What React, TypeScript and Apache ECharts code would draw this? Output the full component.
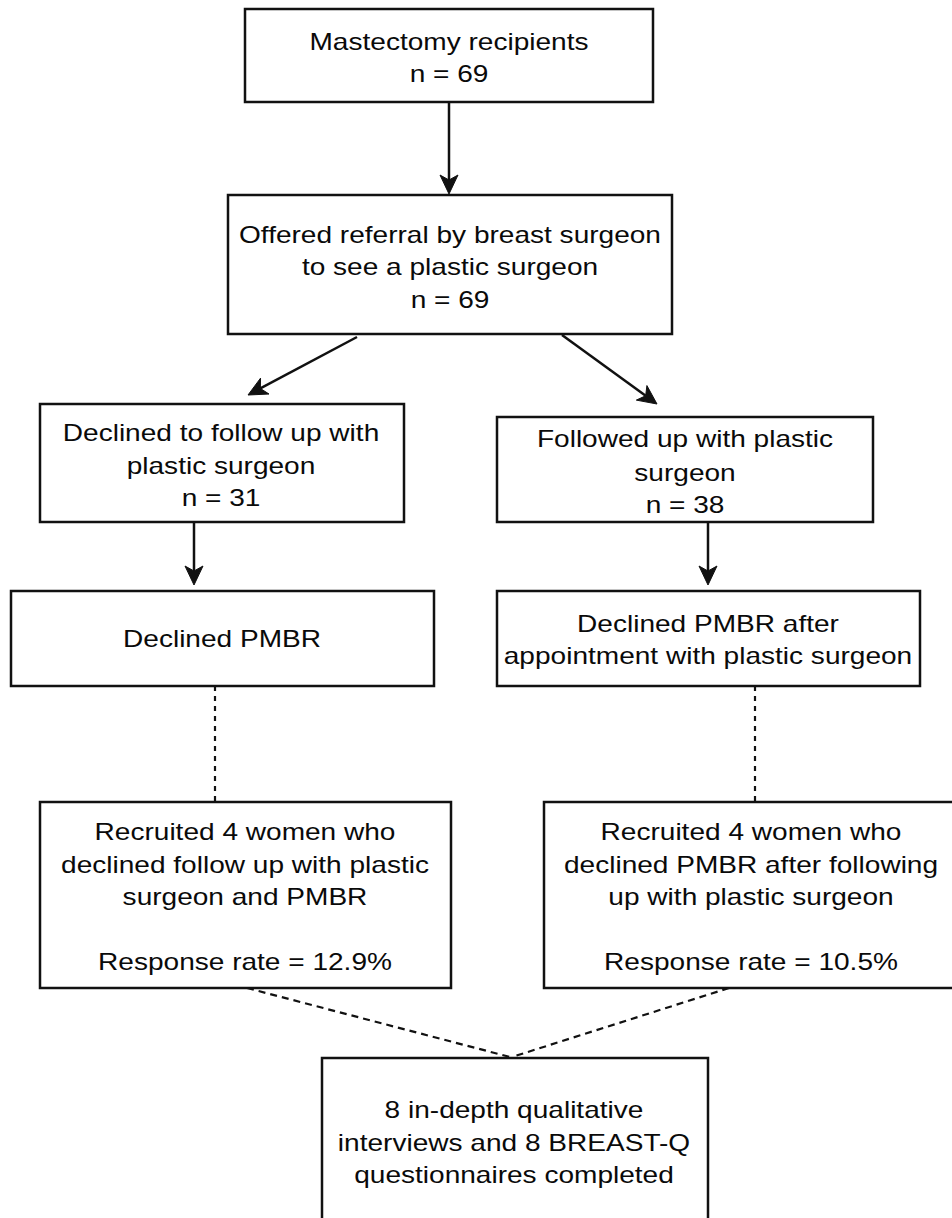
import React, { useEffect, useRef } from "react";
import * as echarts from "echarts";

// ---- Data (text content and numbers) ----
const stageTitles: string[][] = [
  ["Mastectomy recipients"],
  ["Offered referral by breast surgeon", "to see a plastic surgeon"],
  ["Declined to follow up with", "plastic surgeon"],
  ["Followed up with plastic", "surgeon"],
  ["Declined PMBR"],
  ["Declined PMBR after", "appointment with plastic surgeon"],
  ["Recruited 4 women who", "declined follow up with plastic", "surgeon and PMBR"],
  ["Recruited 4 women who", "declined PMBR after following", "up with plastic surgeon"],
  ["8 in-depth qualitative", "interviews and 8 BREAST-Q", "questionnaires completed"],
];
const stageCounts: (number | null)[] = [69, 69, 31, 38, null, null, null, null, null];
const responseRates: (number | null)[] = [null, null, null, null, null, null, 12.9, 10.5, null];

// links: [from, to, dashed]
const links: [number, number, boolean][] = [
  [0, 1, false],
  [1, 2, false],
  [1, 3, false],
  [2, 4, false],
  [3, 5, false],
  [4, 6, true],
  [5, 7, true],
  [6, 8, true],
  [7, 8, true],
];

// ---- Layout (positions / sizes) ----
const boxRects: [number, number, number, number][] = [
  [245, 9, 653, 102],
  [228, 195, 672, 334],
  [40, 404, 404, 522],
  [497, 417, 873, 522],
  [11, 591, 434, 686],
  [497, 591, 920, 686],
  [40, 802, 451, 988],
  [544, 802, 962, 988],
  [322, 1058, 708, 1260],
];
const textCenters: number[] = [449, 450, 221, 685, 222, 708, 245, 751, 514];
const lineYs: number[][] = [
  [42, 74],
  [235, 267, 300],
  [433, 466, 498],
  [439, 473, 505],
  [639],
  [624, 656],
  [832, 865, 897, 962],
  [832, 865, 897, 962],
  [1110, 1143, 1175],
];
const linkPoints: [number, number, number, number][] = [
  [449, 102, 449, 194],
  [357, 337, 248, 395],
  [562, 335, 657, 404],
  [194, 522, 194, 585],
  [708, 522, 708, 585],
  [215, 686, 215, 802],
  [755, 686, 755, 802],
  [247, 988, 510, 1057],
  [729, 988, 512, 1057],
];

const FONT_SIZE = 23;
const SCALE_X = 1.22;
const INK = "#111";

function buildGraphics() {
  const els: any[] = [];
  stageTitles.forEach((title, i) => {
    const [x0, y0, x1, y1] = boxRects[i];
    els.push({
      type: "rect",
      shape: { x: x0, y: y0, width: x1 - x0, height: y1 - y0 },
      style: { fill: "#fff", stroke: INK, lineWidth: 2.5 },
      z: 1,
    });
    const lines = [...title];
    if (stageCounts[i] != null) lines.push(`n = ${stageCounts[i]}`);
    if (responseRates[i] != null) lines.push(`Response rate = ${responseRates[i]}%`);
    lines.forEach((t, k) => {
      els.push({
        type: "text",
        x: textCenters[i],
        y: lineYs[i][k],
        scaleX: SCALE_X,
        z: 3,
        style: {
          text: t,
          fontSize: FONT_SIZE,
          fontFamily: '"Liberation Sans", Arial, sans-serif',
          fill: "#0a0a0a",
          align: "center",
          verticalAlign: "middle",
        },
      });
    });
  });

  links.forEach((lk, j) => {
    const dashed = lk[2];
    const [xa, ya, xb, yb] = linkPoints[j];
    if (dashed) {
      const vertical = xa === xb;
      els.push({
        type: "line",
        shape: { x1: xa, y1: ya, x2: xb, y2: yb },
        style: { stroke: INK, lineWidth: 2.2, lineDash: vertical ? [5, 5] : [7, 5] },
        z: 2,
      });
    } else {
      const dx = xb - xa;
      const dy = yb - ya;
      const len = Math.sqrt(dx * dx + dy * dy);
      const ux = dx / len;
      const uy = dy / len;
      const px = -uy;
      const py = ux;
      const L = 19;
      const W = 9;
      const N = 5;
      const bx = xb - ux * L;
      const by = yb - uy * L;
      const nx = xb - ux * (L - N);
      const ny = yb - uy * (L - N);
      els.push({
        type: "line",
        shape: { x1: xa, y1: ya, x2: nx, y2: ny },
        style: { stroke: INK, lineWidth: 2.5 },
        z: 2,
      });
      els.push({
        type: "polygon",
        shape: {
          points: [
            [xb, yb],
            [bx + px * W, by + py * W],
            [nx, ny],
            [bx - px * W, by - py * W],
          ],
        },
        style: { fill: INK, stroke: INK, lineWidth: 1 },
        z: 2,
      });
    }
  });
  return els;
}

export default function App() {
  const ref = useRef<HTMLDivElement>(null);
  useEffect(() => {
    if (!ref.current) return;
    const chart = echarts.init(ref.current, undefined, { renderer: "svg" });
    chart.setOption({
      animation: false,
      backgroundColor: "#ffffff",
      graphic: { elements: buildGraphics() },
    });
    return () => chart.dispose();
  }, []);
  return (
    <div
      ref={ref}
      style={{ position: "absolute", left: 0, top: 0, width: 952, height: 1218, background: "#fff" }}
    />
  );
}
